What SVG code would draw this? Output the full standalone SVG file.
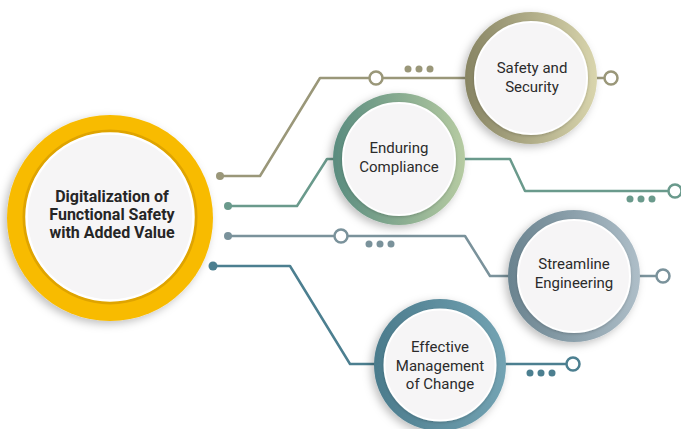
<svg xmlns="http://www.w3.org/2000/svg" width="681" height="429" viewBox="0 0 681 429">
<defs>
<linearGradient id="gS" x1="0" y1="0" x2="1" y2="0"><stop offset="0" stop-color="#878463"/><stop offset="1" stop-color="#d9d5ad"/></linearGradient>
<linearGradient id="gE" x1="0" y1="0" x2="1" y2="0"><stop offset="0" stop-color="#5a8c7f"/><stop offset="1" stop-color="#b6cba2"/></linearGradient>
<linearGradient id="gT" x1="0" y1="0" x2="1" y2="0"><stop offset="0" stop-color="#6a838f"/><stop offset="1" stop-color="#aebec8"/></linearGradient>
<linearGradient id="gM" x1="0" y1="0" x2="1" y2="0"><stop offset="0" stop-color="#4b7b8c"/><stop offset="1" stop-color="#73a3b3"/></linearGradient>
<filter id="sh" x="-30%" y="-30%" width="160%" height="160%"><feDropShadow dx="-3" dy="3" stdDeviation="4" flood-color="#000" flood-opacity="0.25"/></filter>
<filter id="shi" x="-30%" y="-30%" width="160%" height="160%"><feDropShadow dx="0" dy="1" stdDeviation="1.5" flood-color="#000" flood-opacity="0.2"/></filter>
</defs>
<style>
.ln{fill:none;stroke-width:2.5;stroke-linejoin:round}
.oc{fill:#fff;stroke-width:2.5}
.inner{fill:#f6f5f6;stroke:#fff;stroke-width:2}
.t{font-family:Roboto,"Liberation Sans",sans-serif;font-size:15px;fill:#2b2b2b;text-anchor:middle}
.tb{font-family:Roboto,"Liberation Sans",sans-serif;font-size:16px;font-weight:bold;fill:#262626;text-anchor:middle}
</style>
<g id="connectors">
<g stroke="#9a9779" fill="#9a9779">
<path class="ln" d="M220,176 H260 L320,78 H465"/>
<circle cx="220" cy="176" r="4" stroke="none"/>
<path class="ln" d="M597,78 H605"/>
<circle class="oc" cx="376" cy="78" r="6.5"/>
<circle class="oc" cx="611" cy="78" r="6.5"/>
<circle cx="408" cy="69" r="3.5" stroke="none"/><circle cx="419" cy="69" r="3.5" stroke="none"/><circle cx="430" cy="69" r="3.5" stroke="none"/>
</g>
<g stroke="#6a9a8c" fill="#6a9a8c">
<path class="ln" d="M228,206 H297 L327,159 H335"/>
<circle cx="228" cy="206" r="4" stroke="none"/>
<path class="ln" d="M463,159 H510 L525,191 H669"/>
<circle class="oc" cx="675" cy="191" r="6.5"/>
<circle cx="630" cy="199" r="3.5" stroke="none"/><circle cx="641" cy="199" r="3.5" stroke="none"/><circle cx="652" cy="199" r="3.5" stroke="none"/>
</g>
<g stroke="#7a929b" fill="#7a929b">
<path class="ln" d="M228,236 H465 L490,276 H510"/>
<circle cx="228" cy="236" r="4" stroke="none"/>
<circle class="oc" cx="341" cy="236" r="6.5"/>
<circle cx="369" cy="244" r="3.5" stroke="none"/><circle cx="380" cy="244" r="3.5" stroke="none"/><circle cx="391" cy="244" r="3.5" stroke="none"/>
<path class="ln" d="M638,276 H657"/>
<circle class="oc" cx="663" cy="276" r="6.5"/>
</g>
<g stroke="#4c7f90" fill="#4c7f90">
<path class="ln" d="M213,266 H290 L350,364 H375"/>
<circle cx="213" cy="266" r="4.5" stroke="none"/>
<path class="ln" d="M504,364 H567"/>
<circle class="oc" cx="573" cy="364" r="6.5"/>
<circle cx="530" cy="373" r="3.5" stroke="none"/><circle cx="541" cy="373" r="3.5" stroke="none"/><circle cx="552" cy="373" r="3.5" stroke="none"/>
</g>
</g>
<g id="main">
<circle cx="110" cy="218" r="103" fill="#f8bb00" filter="url(#sh)"/>
<circle cx="110" cy="217" r="86" fill="none" stroke="#dfa400" stroke-width="3"/>
<circle cx="110" cy="217" r="83.5" fill="#f6f5f6" stroke="#fff" stroke-width="2.5"/>
<text class="tb" x="112" y="202">Digitalization of</text>
<text class="tb" x="112" y="220">Functional Safety</text>
<text class="tb" x="112" y="238">with Added Value</text>
</g>
<g id="n-safety">
<circle cx="531" cy="78" r="66" fill="url(#gS)" filter="url(#sh)"/>
<circle class="inner" cx="531" cy="78" r="56" filter="url(#shi)"/>
<text class="t" x="532" y="73">Safety and</text>
<text class="t" x="532" y="92">Security</text>
</g>
<g id="n-enduring">
<circle cx="399" cy="159" r="66" fill="url(#gE)" filter="url(#sh)"/>
<circle class="inner" cx="399" cy="159" r="56" filter="url(#shi)"/>
<text class="t" x="399" y="153">Enduring</text>
<text class="t" x="399" y="172">Compliance</text>
</g>
<g id="n-streamline">
<circle cx="574" cy="276" r="66" fill="url(#gT)" filter="url(#sh)"/>
<circle class="inner" cx="574" cy="276" r="56" filter="url(#shi)"/>
<text class="t" x="574" y="269">Streamline</text>
<text class="t" x="574" y="288">Engineering</text>
</g>
<g id="n-effective">
<circle cx="440" cy="365" r="66" fill="url(#gM)" filter="url(#sh)"/>
<circle class="inner" cx="440" cy="365" r="55.5" filter="url(#shi)"/>
<text class="t" x="440" y="352">Effective</text>
<text class="t" x="440" y="371">Management</text>
<text class="t" x="440" y="389">of Change</text>
</g>
</svg>
